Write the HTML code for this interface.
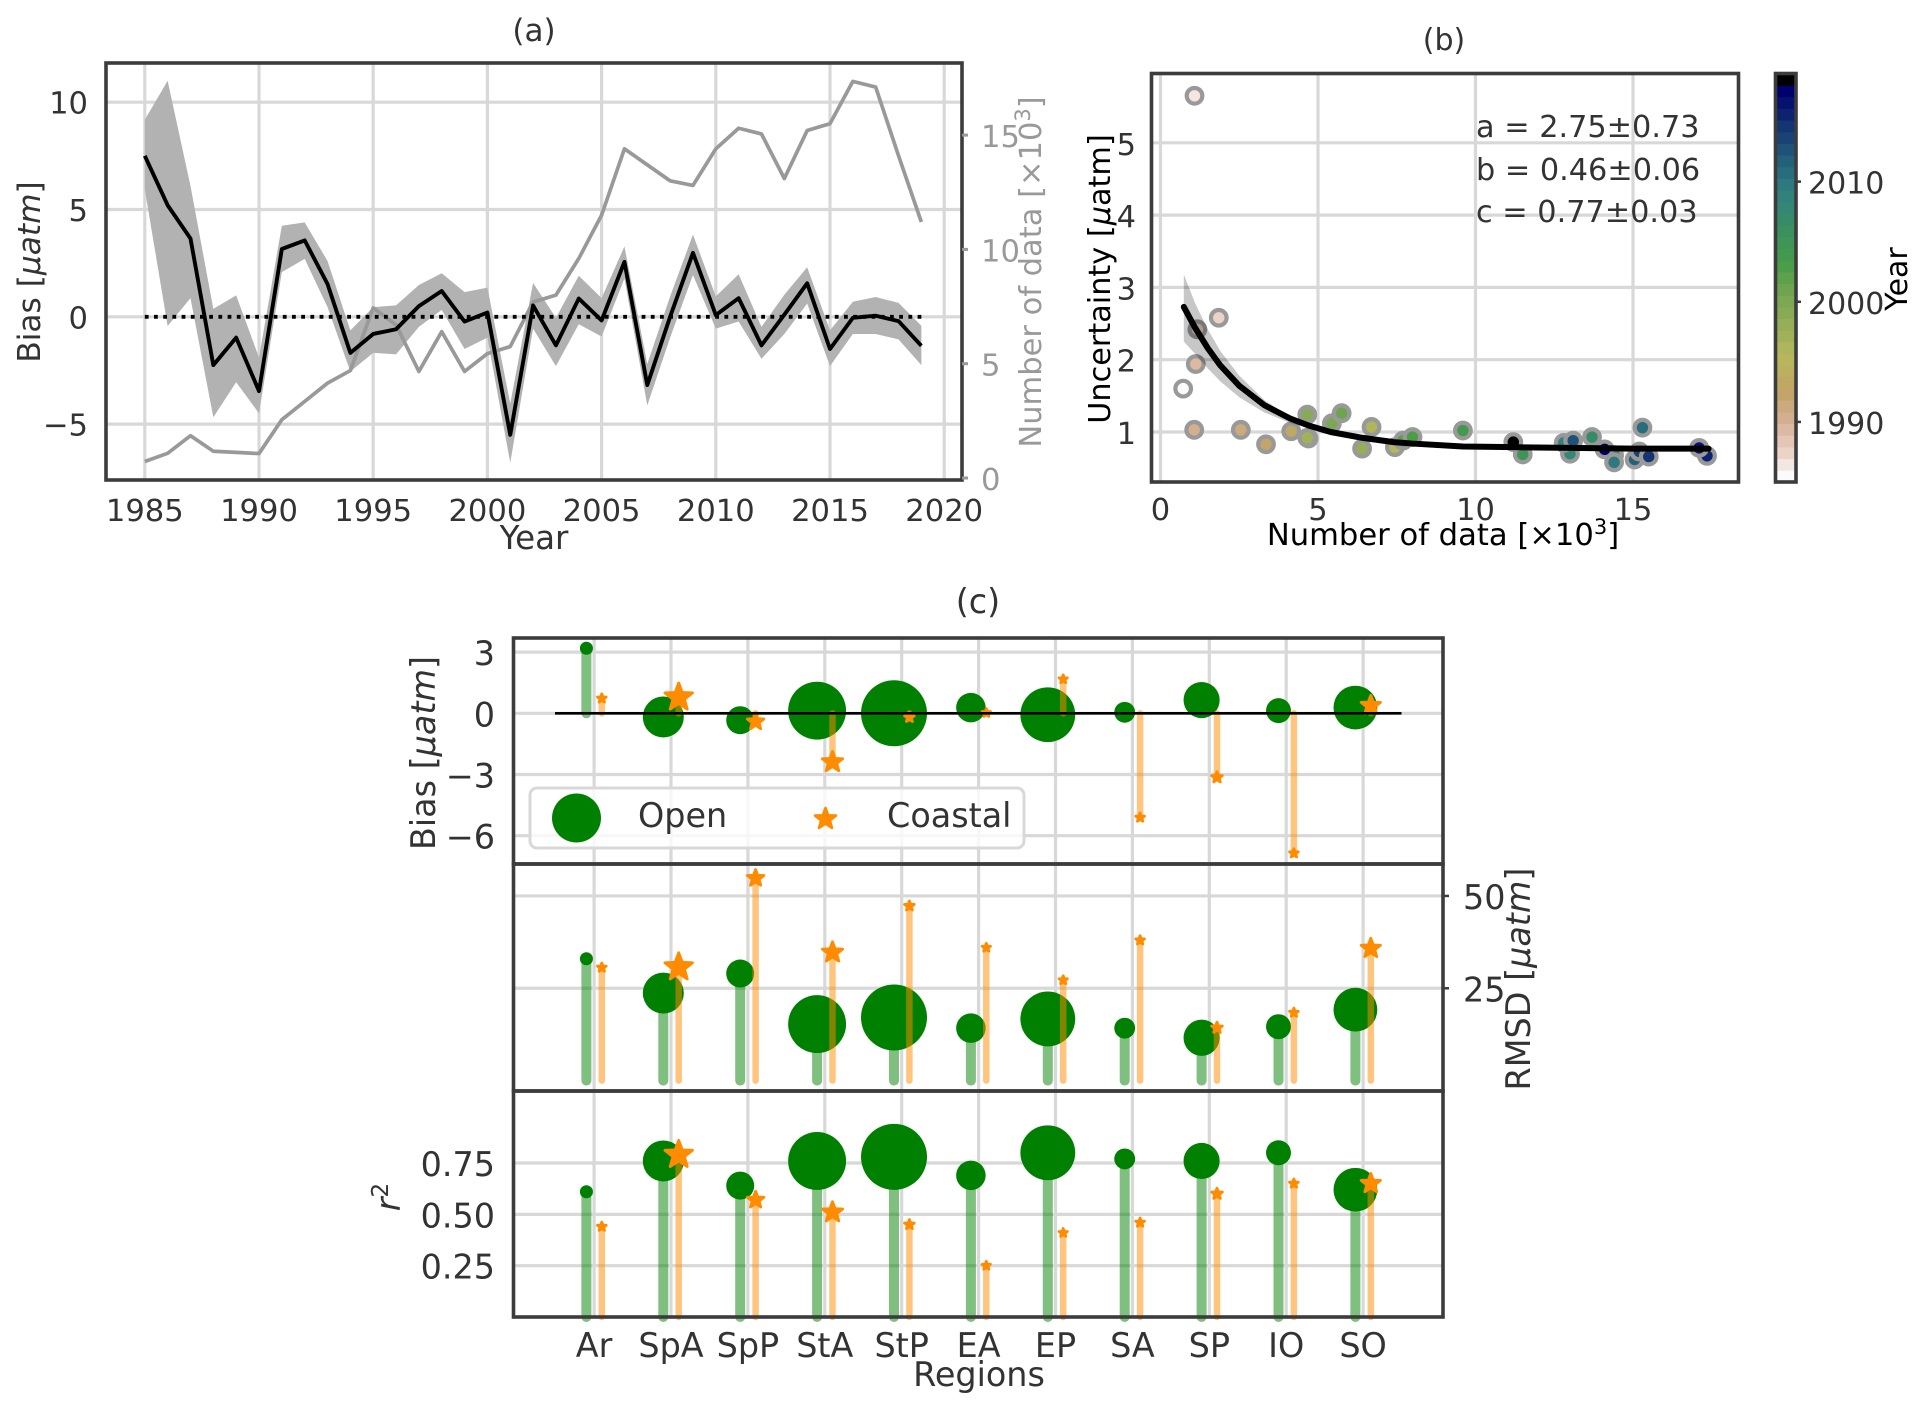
<!DOCTYPE html>
<html lang="en">
<head>
<meta charset="utf-8">
<title>Bias and uncertainty charts</title>
<style>
html,body{margin:0;padding:0;background:#fff;width:1925px;height:1411px;overflow:hidden}
svg{display:block;font-family:"DejaVu Sans","Liberation Sans",sans-serif;font-size:30px}
text{fill:#333}
</style>
</head>
<body>
<svg id="chart" xmlns="http://www.w3.org/2000/svg" width="1925" height="1411" viewBox="0 0 1925 1411">
  <g id="a-under"></g>
  <g id="a-marks"></g>
  <rect x="106" y="63" width="856" height="417" fill="none" stroke="#3c3c3c" stroke-width="3.6"/>
  <g id="a-ticks" font-size="30.6"></g>
  <text x="534" y="41" text-anchor="middle" font-size="31">(a)</text>
  <text x="534" y="549" text-anchor="middle" font-size="32.5">Year</text>
  <text transform="translate(40 272) rotate(-90)" text-anchor="middle" font-size="31.2">Bias [<tspan font-style="italic">μatm</tspan>]</text>
  <text transform="translate(1041 272) rotate(-90)" text-anchor="middle" style="fill:#999" font-size="30.5">Number of data [×10<tspan dy="-11" font-size="21">3</tspan><tspan dy="11">]</tspan></text>

  <g id="b-under"></g>
  <g id="b-marks"></g>
  <rect x="1151.5" y="73.5" width="587" height="408.5" fill="none" stroke="#3c3c3c" stroke-width="3.6"/>
  <g id="b-ticks" font-size="30.5"></g>
  <text x="1444" y="50" text-anchor="middle">(b)</text>
  <text x="1443" y="545" text-anchor="middle" style="fill:#000" font-size="30.6">Number of data [×10<tspan dy="-11" font-size="21">3</tspan><tspan dy="11">]</tspan></text>
  <text transform="translate(1110 279) rotate(-90)" text-anchor="middle" style="fill:#000" font-size="30.3">Uncertainty [<tspan font-style="italic">μ</tspan>atm]</text>
  <text x="1476" y="137" font-size="30.3">a = 2.75±0.73</text>
  <text x="1476" y="180" font-size="30.3">b = 0.46±0.06</text>
  <text x="1476" y="222" font-size="30.3">c = 0.77±0.03</text>
  <g id="cbar"></g>
  <text transform="translate(1907 279) rotate(-90)" text-anchor="middle" style="fill:#000">Year</text>

  <g id="c-under"></g>
  <g id="c-marks"></g>
  <rect x="513.5" y="638" width="929.5" height="226" fill="none" stroke="#3c3c3c" stroke-width="3.6"/>
  <rect x="513.5" y="864" width="929.5" height="227" fill="none" stroke="#3c3c3c" stroke-width="3.6"/>
  <rect x="513.5" y="1091" width="929.5" height="226" fill="none" stroke="#3c3c3c" stroke-width="3.6"/>
  <g id="c-ticks" font-size="33.4"></g>
  <text x="978" y="613" text-anchor="middle" font-size="33.4">(c)</text>
  <text x="979" y="1386" text-anchor="middle" font-size="33.4">Regions</text>
  <text transform="translate(435 753) rotate(-90)" text-anchor="middle" font-size="33.4">Bias [<tspan font-style="italic">μatm</tspan>]</text>
  <text transform="translate(1530 979) rotate(-90)" text-anchor="middle" font-size="33.4">RMSD [<tspan font-style="italic">μatm</tspan>]</text>
  <text transform="translate(400 1197) rotate(-90)" text-anchor="middle" font-size="33.4"><tspan font-style="italic">r</tspan><tspan dy="-12" font-size="23">2</tspan></text>

  <g id="legend" font-size="33.4">
    <rect x="530" y="788" width="494" height="60" rx="7" fill="#fff" fill-opacity="0.8" stroke="#d8d8d8" stroke-width="3"/>
    <circle cx="576.5" cy="818" r="24.5" fill="#008000"/>
    <text x="638" y="827">Open</text>
    <polygon id="legend-star" fill="#ff8c00" stroke="#ff8c00" stroke-width="2.6" stroke-linejoin="round"/>
    <text x="887" y="827">Coastal</text>
  </g>
</svg>
<script>
// ---------- Panel (a) data ----------
const years = [1985,1986,1987,1988,1989,1990,1991,1992,1993,1994,1995,1996,1997,1998,1999,2000,2001,2002,2003,2004,2005,2006,2007,2008,2009,2010,2011,2012,2013,2014,2015,2016,2017,2018,2019];
const biasMean = [7.5,5.2,3.65,-2.25,-0.97,-3.46,3.16,3.56,1.53,-1.68,-0.8,-0.58,0.5,1.2,-0.22,0.2,-5.5,0.53,-1.33,0.85,-0.17,2.56,-3.18,0,2.98,0.08,0.87,-1.33,0.1,1.56,-1.5,-0.05,0.05,-0.2,-1.35];
const biasUpper = [9.18,11.0,6.1,0.37,1.0,-1.9,4.24,4.4,2.6,-0.63,0.45,0.53,1.48,2.03,1.15,1.36,-4.04,1.58,-0.05,1.91,0.87,3.28,-2.2,0.95,3.83,0.95,1.98,-0.47,1.03,2.31,-0.63,0.7,0.92,0.65,-0.42];
const biasLower = [5.94,-0.43,0.87,-4.68,-3.05,-4.5,2.08,2.7,0.45,-2.55,-1.68,-1.75,-0.47,0.32,-1.5,-0.97,-6.8,-0.55,-2.3,-0.35,-0.92,1.78,-4.13,-0.97,1.95,-0.55,-0.22,-1.96,-0.8,0.62,-2.3,-0.8,-0.8,-1.05,-2.25];
const numData = [0.72,1.08,1.85,1.17,1.12,1.07,2.55,3.35,4.15,4.7,7.44,6.7,4.66,6.4,4.66,5.44,5.75,7.7,8.0,9.6,11.5,14.4,13.7,13.0,12.8,14.4,15.3,15.05,13.1,15.2,15.5,17.35,17.1,14.1,11.2];
const aXTicks = [1985,1990,1995,2000,2005,2010,2015,2020];
const aYTicks = [-5,0,5,10];
const aRightTicks = [0,5,10,15];

// ---------- Panel (b) data ----------
const uncertainty = [1.6,5.65,2.58,2.42,1.94,1.03,1.03,0.83,1.01,0.91,0.79,1.07,0.92,0.77,1.24,1.12,1.26,0.88,0.93,1.02,0.69,0.68,0.93,0.7,0.85,0.58,1.06,0.62,0.88,0.73,0.66,0.67,0.78,0.76,0.86];
const fitX = [0.74,1.1,1.5,1.9,2.5,3.3,4.1,4.7,5.4,6.4,7.4,8,9.6,11.2,13,15,17.4];
const fitY = [2.73,2.44,2.16,1.92,1.64,1.37,1.19,1.09,1.0,0.92,0.86,0.84,0.8,0.79,0.78,0.77,0.77];
const fitUpper = [3.18,2.78,2.42,2.12,1.78,1.44,1.22,1.12,1.02,0.93,0.87,0.85,0.8,0.79,0.78,0.77,0.77];
const fitLower = [2.25,2.08,1.88,1.7,1.48,1.27,1.13,1.05,0.98,0.91,0.85,0.83,0.8,0.79,0.78,0.77,0.77];
const bXTicks = [0,5,10,15];
const bYTicks = [1,2,3,4,5];
const cbarTicks = [1990,2000,2010];

// ---------- Panel (c) data ----------
const regions = ["Ar","SpA","SpP","StA","StP","EA","EP","SA","SP","IO","SO"];
const openCount = [3.9,38.6,18,77,100,20,69,10,30,14.3,44];
const coastalCount = [10,100,36,54,12,9,9,10,15,10,49];
const openBias = [3.19,-0.18,-0.34,0.13,0,0.28,-0.07,0.05,0.65,0.13,0.28];
const coastalBias = [0.73,0.78,-0.41,-2.39,-0.2,0.02,1.67,-5.11,-3.14,-6.86,0.38];
const openRmsd = [33,23.7,29,15.3,17.1,14.2,16.7,14.2,11.6,14.6,19.2];
const coastalRmsd = [30.6,30.7,54.8,34.7,47.3,36,27.2,38,14.3,18.4,35.8];
const openR2 = [0.61,0.76,0.64,0.76,0.78,0.69,0.80,0.77,0.76,0.80,0.62];
const coastalR2 = [0.44,0.79,0.57,0.51,0.45,0.25,0.41,0.46,0.60,0.65,0.65];
const biasTicks = [-6,-3,0,3];
const rmsdTicks = [25,50];
const r2Ticks = [0.25,0.5,0.75];

// ---------- helpers ----------
const NS = 'http://www.w3.org/2000/svg';
function mk(parentId, tag, attrs, name) {
  const el = document.createElementNS(NS, tag);
  for (const k in attrs) el.setAttribute(k, attrs[k]);
  
  
  document.getElementById(parentId).appendChild(el);
  return el;
}
function label(parentId, x, y, str, anchor, fill, name) {
  const el = mk(parentId, 'text', {x: x, y: y, 'text-anchor': anchor, style: 'fill:' + fill}, name);
  el.textContent = str;
  return el;
}
function pts(xs, ys, fx, fy) {
  return xs.map((v, i) => fx(v).toFixed(2) + ',' + fy(ys[i]).toFixed(2)).join(' ');
}
const GRID = '#d8d8d8';
const GRID_W = 3.2;
const TXT = '#333';
const minus = v => String(v).replace('-', '\u2212');

// ---------- Panel (a) ----------
const ax = v => 144.8 + (v - 1985) * 22.84;
const ay = v => 316.8 - v * 21.46;
const ar = v => 478 - v * 22.86;

aXTicks.forEach(t => {
  mk('a-under', 'line', {x1: ax(t), x2: ax(t), y1: 63, y2: 480, stroke: GRID, 'stroke-width': GRID_W}, 'a-x-gridline');
  label('a-ticks', ax(t), 521, t, 'middle', TXT, 'a-x-tick-label');
});
aYTicks.forEach(t => {
  mk('a-under', 'line', {x1: 106, x2: 962, y1: ay(t), y2: ay(t), stroke: GRID, 'stroke-width': GRID_W}, 'a-y-gridline');
  label('a-ticks', 88, ay(t) + 11.5, minus(t), 'end', TXT, 'a-y-tick-label');
});
aRightTicks.forEach(t => {
  mk('a-ticks', 'line', {x1: 962, x2: 968, y1: ar(t), y2: ar(t), stroke: '#999', 'stroke-width': 3}, 'a-right-tick');
  label('a-ticks', 981, ar(t) + 12, t, 'start', '#999', 'a-right-tick-label');
});
const bandPts = pts(years, biasUpper, ax, ay) + ' ' + pts(years.slice().reverse(), biasLower.slice().reverse(), ax, ay);
mk('a-marks', 'polygon', {points: bandPts, fill: '#b2b2b2'}, 'bias-uncertainty-band');
mk('a-marks', 'polyline', {points: pts(years, numData, ax, ar), fill: 'none', stroke: '#999', 'stroke-width': 3.7, 'stroke-linejoin': 'round'}, 'number-of-data-line');
mk('a-marks', 'line', {x1: ax(years[0]), x2: ax(years[years.length - 1]), y1: ay(0), y2: ay(0), stroke: '#000', 'stroke-width': 3.8, 'stroke-dasharray': '3.8 5.4'}, 'zero-bias-dotted-line');
mk('a-marks', 'polyline', {points: pts(years, biasMean, ax, ay), fill: 'none', stroke: '#000', 'stroke-width': 3.9, 'stroke-linejoin': 'round'}, 'bias-mean-line');

// ---------- Panel (b) ----------
const bx = v => 1160.5 + v * 31.5;
const by = v => 432 - (v - 1) * 72.3;
const cmapStops = [[0,0,0,0],[0.0275,0,0,110],[0.1098,19,48,113],[0.2078,35,98,123],[0.2824,48,128,128],[0.4588,69,156,71],[0.549,120,166,82],[0.698,183,183,92],[0.7882,193,163,102],[0.8667,215,178,153],[0.9412,235,211,199],[1,251,251,251]];
function yearColor(y) {
  const t = (2019 - y) / 34;
  for (let i = 1; i < cmapStops.length; i++) {
    if (t <= cmapStops[i][0]) {
      const a = cmapStops[i - 1], b = cmapStops[i], f = (t - a[0]) / (b[0] - a[0]);
      return 'rgb(' + [1, 2, 3].map(k => Math.round(a[k] + (b[k] - a[k]) * f)).join(',') + ')';
    }
  }
  return 'rgb(251,251,251)';
}
bXTicks.forEach(t => {
  mk('b-under', 'line', {x1: bx(t), x2: bx(t), y1: 73.5, y2: 482, stroke: GRID, 'stroke-width': GRID_W}, 'b-x-gridline');
  label('b-ticks', bx(t), 520, t, 'middle', TXT, 'b-x-tick-label');
});
bYTicks.forEach(t => {
  mk('b-under', 'line', {x1: 1151.5, x2: 1738.5, y1: by(t), y2: by(t), stroke: GRID, 'stroke-width': GRID_W}, 'b-y-gridline');
  label('b-ticks', 1136, by(t) + 12, t, 'end', TXT, 'b-y-tick-label');
});
years.forEach((y, i) => {
  mk('b-marks', 'circle', {cx: bx(numData[i]), cy: by(uncertainty[i]), r: 7.8, fill: yearColor(y), stroke: '#999', 'stroke-width': 4.2}, 'scatter-point');
});
const fitBand = pts(fitX, fitUpper, bx, by) + ' ' + pts(fitX.slice().reverse(), fitLower.slice().reverse(), bx, by);
mk('b-marks', 'polygon', {points: fitBand, fill: '#000', 'fill-opacity': 0.22}, 'fit-uncertainty-band');
mk('b-marks', 'polyline', {points: pts(fitX, fitY, bx, by), fill: 'none', stroke: '#000', 'stroke-width': 6, 'stroke-linejoin': 'round', 'stroke-linecap': 'round'}, 'fit-curve');

// colorbar
const cbTop = 73.5, cbBottom = 482, cbH = (cbBottom - cbTop) / years.length;
const cbY = v => cbBottom - (v - 1985) * (cbBottom - cbTop) / 34;
years.forEach((y, i) => {
  mk('cbar', 'rect', {x: 1775.5, y: cbBottom - (i + 1) * cbH, width: 20.5, height: cbH + 0.4, fill: yearColor(y)}, 'colorbar-segment');
});
mk('cbar', 'rect', {x: 1775.5, y: cbTop, width: 20.5, height: cbBottom - cbTop, fill: 'none', stroke: '#3c3c3c', 'stroke-width': 3.6}, 'colorbar-frame');
cbarTicks.forEach(t => {
  mk('cbar', 'line', {x1: 1796, x2: 1801, y1: cbY(t), y2: cbY(t), stroke: '#3c3c3c', 'stroke-width': 2.5}, 'colorbar-tick');
  label('cbar', 1808, cbY(t) + 12, t, 'start', TXT, 'colorbar-tick-label');
});

// ---------- Panel (c) ----------
const cx = i => 594.1 + i * 76.9;
const OFFSET = 7.7;
const panels = [
  {y: v => 713.3 - v * 20.4, base: 0, open: openBias, coast: coastalBias, top: 638, bottom: 864, key: 'bias'},
  {y: v => 1080.6 - v * 3.693, base: 0, open: openRmsd, coast: coastalRmsd, top: 864, bottom: 1091, key: 'rmsd'},
  {y: v => 1317 - v * 205.3, base: 0, open: openR2, coast: coastalR2, top: 1091, bottom: 1317, key: 'r2'}
];
const openR = c => 33 * Math.sqrt(c / 100);
const coastR = c => 14.5 * Math.sqrt(c / 100);
function starPoints(x, y, R) {
  const out = [];
  for (let k = 0; k < 10; k++) {
    const r = k % 2 ? R * 0.42 : R, a = -Math.PI / 2 + k * Math.PI / 5;
    out.push((x + r * Math.cos(a)).toFixed(2) + ',' + (y + r * Math.sin(a)).toFixed(2));
  }
  return out.join(' ');
}
document.getElementById('legend-star').setAttribute('points', starPoints(825.5, 819, 11));

panels.forEach(p => {
  regions.forEach((_, i) => {
    mk('c-under', 'line', {x1: cx(i), x2: cx(i), y1: p.top, y2: p.bottom, stroke: GRID, 'stroke-width': GRID_W}, 'c-x-gridline');
  });
});
biasTicks.forEach(t => {
  mk('c-under', 'line', {x1: 513.5, x2: 1443, y1: panels[0].y(t), y2: panels[0].y(t), stroke: GRID, 'stroke-width': GRID_W}, 'c-bias-gridline');
  label('c-ticks', 495, panels[0].y(t) + 13, minus(t), 'end', TXT, 'c-bias-tick-label');
});
rmsdTicks.forEach(t => {
  mk('c-under', 'line', {x1: 513.5, x2: 1443, y1: panels[1].y(t), y2: panels[1].y(t), stroke: GRID, 'stroke-width': GRID_W}, 'c-rmsd-gridline');
  mk('c-ticks', 'line', {x1: 1443, x2: 1449, y1: panels[1].y(t), y2: panels[1].y(t), stroke: '#3c3c3c', 'stroke-width': 2.5}, 'c-rmsd-tick');
  label('c-ticks', 1463, panels[1].y(t) + 13, t, 'start', TXT, 'c-rmsd-tick-label');
});
r2Ticks.forEach(t => {
  mk('c-under', 'line', {x1: 513.5, x2: 1443, y1: panels[2].y(t), y2: panels[2].y(t), stroke: GRID, 'stroke-width': GRID_W}, 'c-r2-gridline');
  label('c-ticks', 495, panels[2].y(t) + 13, t.toFixed(2), 'end', TXT, 'c-r2-tick-label');
});
regions.forEach((r, i) => {
  label('c-ticks', cx(i), 1357, r, 'middle', TXT, 'region-tick-label');
});

panels.forEach(p => {
  // open circles first, then translucent stems, then stars
  p.open.forEach((v, i) => {
    mk('c-marks', 'circle', {cx: cx(i) - OFFSET, cy: p.y(v), r: openR(openCount[i]), fill: '#008000'}, p.key + '-open-marker');
  });
  p.open.forEach((v, i) => {
    mk('c-marks', 'line', {x1: cx(i) - OFFSET, x2: cx(i) - OFFSET, y1: p.y(p.base), y2: p.y(v), stroke: '#008000', 'stroke-opacity': 0.5, 'stroke-width': 10, 'stroke-linecap': 'round'}, p.key + '-open-stem');
  });
  p.coast.forEach((v, i) => {
    mk('c-marks', 'line', {x1: cx(i) + OFFSET, x2: cx(i) + OFFSET, y1: p.y(p.base), y2: p.y(v), stroke: '#ff8c00', 'stroke-opacity': 0.5, 'stroke-width': 6.5, 'stroke-linecap': 'round'}, p.key + '-coastal-stem');
  });
  p.coast.forEach((v, i) => {
    mk('c-marks', 'polygon', {points: starPoints(cx(i) + OFFSET, p.y(v), coastR(coastalCount[i])), fill: '#ff8c00', stroke: '#ff8c00', 'stroke-width': 2.8, 'stroke-linejoin': 'round'}, p.key + '-coastal-marker');
  });
});
mk('c-marks', 'line', {x1: 555, x2: 1401.5, y1: panels[0].y(0), y2: panels[0].y(0), stroke: '#000', 'stroke-width': 2.6}, 'bias-zero-line');
// keep the legend above all of panel (c)
document.getElementById('chart').appendChild(document.getElementById('legend'));
</script>
</body>
</html>
